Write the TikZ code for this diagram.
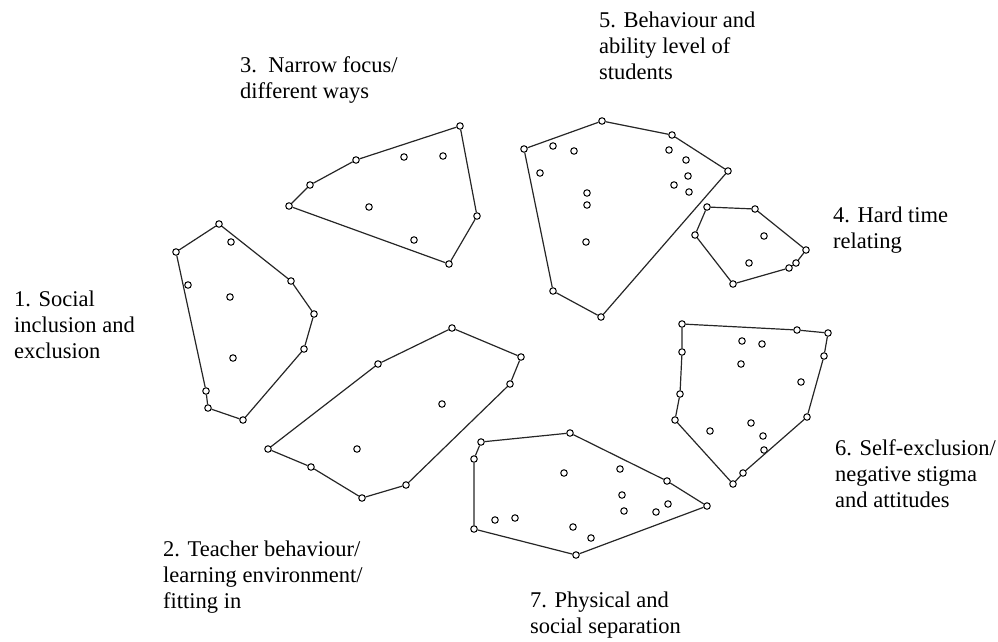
\documentclass[tikz,border=0pt]{standalone}
\usepackage{fontspec}
\setmainfont{Liberation Serif}
\usepackage{tikz}

\begin{document}
\begin{tikzpicture}[
    x=1pt, y=-1pt,
    %% ── point markers and cluster outlines ──
    pt/.style={circle, draw, fill=white, inner sep=0pt,
        minimum size=6.5pt, line width=1pt},
    hull/.style={line width=1.2pt, color=black!85},
    %% ── cluster captions (anchored at the baseline of the last line) ──
    lbl/.style={anchor=base west, align=left, inner sep=0pt,
        font=\fontsize{22.5}{26}\selectfont},
]
\useasboundingbox (0,0) rectangle (998,642);

% ── Cluster 1 ──
\foreach \n/\x/\y in {a/219/224, b/176/252, c/206/391, d/208/408, e/243/420,
    f/304/349, g/314/314, h/291/281, i/231/242, j/188/285, k/230/297, l/233/358}
    \node[pt] (c1\n) at (\x,\y) {};
\draw[hull] (c1a) -- (c1b) -- (c1c) -- (c1d) -- (c1e) -- (c1f) -- (c1g) -- (c1h) -- (c1a);

% ── Cluster 2 ──
\foreach \n/\x/\y in {a/268/449, b/378/364, c/452/328, d/521/357, e/510/384,
    f/406/485, g/362/498, h/311/467, i/442/404, j/357/449}
    \node[pt] (c2\n) at (\x,\y) {};
\draw[hull] (c2a) -- (c2b) -- (c2c) -- (c2d) -- (c2e) -- (c2f) -- (c2g) -- (c2h) -- (c2a);

% ── Cluster 3 ──
\foreach \n/\x/\y in {a/289/206, b/310/185, c/356/160, d/460/126, e/477/216,
    f/449/264, g/404/157, h/443/156, i/369/207, j/414/240}
    \node[pt] (c3\n) at (\x,\y) {};
\draw[hull] (c3a) -- (c3b) -- (c3c) -- (c3d) -- (c3e) -- (c3f) -- (c3a);

% ── Cluster 4 ──
\foreach \n/\x/\y in {a/707/207, b/755/209, c/806/250, d/796/263, e/789/268,
    f/733/284, g/695/235, h/764/236, i/749/263}
    \node[pt] (c4\n) at (\x,\y) {};
\draw[hull] (c4a) -- (c4b) -- (c4c) -- (c4d) -- (c4e) -- (c4f) -- (c4g) -- (c4a);

% ── Cluster 5 ──
\foreach \n/\x/\y in {a/524/149, b/602/121, c/672/135, d/728/171, e/601/317,
    f/553/291, g/553/146, h/574/151, i/540/173, j/669/150, k/686/160,
    l/688/176, m/674/185, n/689/192, o/587/193, p/587/205, q/586/242}
    \node[pt] (c5\n) at (\x,\y) {};
\draw[hull] (c5a) -- (c5b) -- (c5c) -- (c5d) -- (c5e) -- (c5f) -- (c5a);

% ── Cluster 6 ──
\foreach \n/\x/\y in {a/682/324, b/797/330, c/828/333, d/824/356, e/807/417,
    f/743/473, g/733/484, h/675/420, i/680/394, j/682/352, k/742/341,
    l/762/344, m/741/364, n/801/382, o/751/423, p/710/431, q/763/436, r/764/450}
    \node[pt] (c6\n) at (\x,\y) {};
\draw[hull] (c6a) -- (c6b) -- (c6c) -- (c6d) -- (c6e) -- (c6f) -- (c6g) -- (c6h)
    -- (c6i) -- (c6j) -- (c6a);

% ── Cluster 7 ──
\foreach \n/\x/\y in {a/481/442, b/570/433, c/667/481, d/707/506, e/576/555,
    f/474/529, g/474/459, h/564/473, i/620/469, j/622/495, k/624/511,
    l/656/512, m/668/504, n/495/520, o/515/518, p/573/527, q/591/538}
    \node[pt] (c7\n) at (\x,\y) {};
\draw[hull] (c7a) -- (c7b) -- (c7c) -- (c7d) -- (c7e) -- (c7f) -- (c7g) -- (c7a);

% ── Captions ──
\node[lbl] (lab1) at (14,358)  {1. Social\\inclusion and\\exclusion};
\node[lbl] (lab2) at (163,608) {2. Teacher behaviour/\\learning environment/\\fitting in};
\node[lbl] (lab3) at (240,98)  {3.\ \ Narrow focus/\\different ways};
\node[lbl] (lab4) at (833,248) {4. Hard time\\relating};
\node[lbl] (lab5) at (599,80)  {5. Behaviour and\\ability level of\\students};
\node[lbl] (lab6) at (835,507) {6. Self-exclusion/\\negative stigma\\and attitudes};
\node[lbl] (lab7) at (530,633) {7. Physical and\\social separation};

\end{tikzpicture}
\end{document}
